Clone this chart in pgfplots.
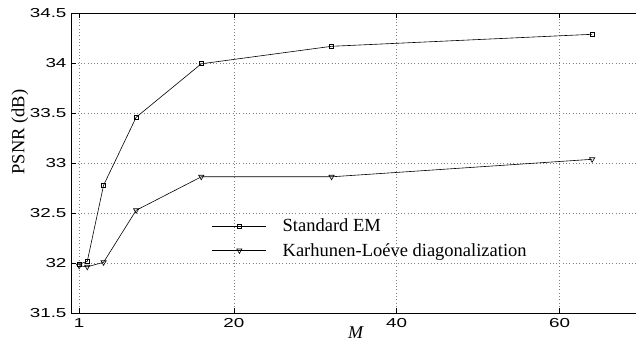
\documentclass[border=0pt]{standalone}
\usepackage{fontspec}
\setmainfont{Liberation Serif}
\newfontfamily\tickfont{Liberation Sans}[FakeStretch=1.45]
\usepackage{pgfplots}
\pgfplotsset{compat=1.18}
\begin{document}
\begin{tikzpicture}
\begin{axis}[
  scale only axis,
  width=570bp, height=300bp,
  xmin=0, xmax=70, ymin=31.5, ymax=34.5,
  xtick={1,20,40,60},
  ytick={31.5,32,32.5,33,33.5,34,34.5},
  /pgf/number format/assume math mode=true,
  tick label style={font=\tickfont\fontsize{13bp}{15bp}\selectfont},
  xticklabel style={yshift=-2bp},
  yticklabel style={xshift=-1bp},
  tick align=inside,
  major tick length=5bp,
  tick style={black, line width=0.5bp},
  axis line style={black, line width=0.8bp},
  grid=major,
  major grid style={gray, line width=0.6bp, dash pattern=on 0.7bp off 2.6bp},
  xlabel={\textit{M}},
  xlabel style={at={(axis description cs:0.5,-0.066)}, anchor=center, font=\fontsize{18bp}{20bp}\selectfont},
  ylabel={PSNR (dB)},
  ylabel style={at={(axis description cs:-0.0895,0.604)}, anchor=center, font=\fontsize{18.5bp}{20bp}\selectfont},
  legend style={at={(axis cs:17.3,32.25)}, anchor=west, draw=none, fill=none, inner sep=0pt,
    row sep=6bp,
    /tikz/every odd column/.append style={column sep=14bp},
    font=\fontsize{18.5bp}{20bp}\selectfont, cells={anchor=west}},
  legend image code/.code={\draw[mark repeat=2,mark phase=2] plot coordinates {(0bp,0bp)(27bp,0bp)(54bp,0bp)};},
]
\addplot[black, line width=0.6bp, mark=square, mark size=2bp, mark options={solid, line width=0.6bp}]
  coordinates {(1,31.99) (2,32.02) (4,32.78) (8,33.46) (16,33.995) (32,34.17) (64,34.29)};
\addlegendentry{Standard EM}
\addplot[black, line width=0.6bp, mark=triangle, mark size=3bp, mark options={solid, rotate=180, line width=0.6bp}]
  coordinates {(1,31.975) (2,31.965) (4,32.01) (8,32.53) (16,32.865) (32,32.865) (64,33.04)};
\addlegendentry{Karhunen-Loéve diagonalization}
\coordinate (sw) at (rel axis cs:0,0);
\coordinate (ne) at (rel axis cs:1,1);
\end{axis}
\pgfresetboundingbox
\path[use as bounding box] ([xshift=-71bp,yshift=-35.7bp]sw) rectangle ([xshift=-5bp,yshift=13.3bp]ne);
\end{tikzpicture}
\end{document}
